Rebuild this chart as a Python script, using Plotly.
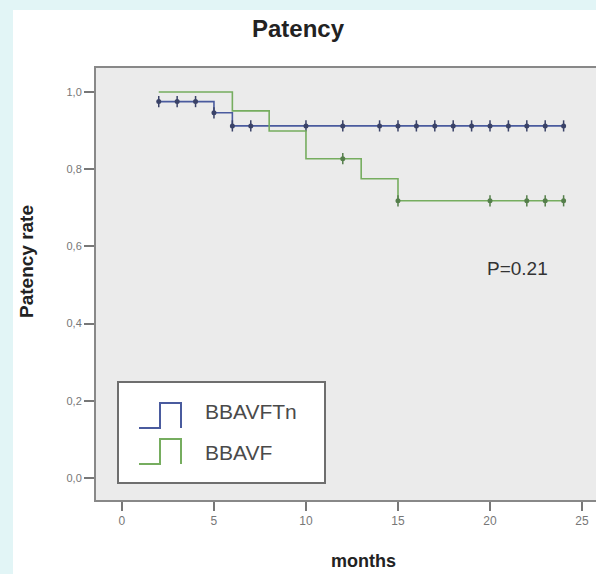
import numpy as np
import plotly.graph_objects as go

# ---- data ----
blue_name = "BBAVFTn"
blue_t = [2, 5, 6, 24]
blue_s = [0.975, 0.946, 0.912, 0.912]
blue_cens = [2, 3, 4, 5, 6, 7, 10, 12, 14, 15, 16, 17, 18, 19, 20, 21, 22, 23, 24]

green_name = "BBAVF"
green_t = [2, 6, 8, 10, 13, 15, 24]
green_s = [1.0, 0.951, 0.899, 0.827, 0.775, 0.718, 0.718]
green_cens = [12, 15, 20, 22, 23, 24]

x_ticks = [0, 5, 10, 15, 20, 25]
y_ticks = [0.0, 0.2, 0.4, 0.6, 0.8, 1.0]
y_ticktext = ["0,0", "0,2", "0,4", "0,6", "0,8", "1,0"]
p_text = "P=0.21"

BLUE = "#4a5b9e"
GREEN = "#76ad5f"
FONT = "Liberation Sans, Arial"

W, H = 596, 574
ML, MR, MT, MB = 96, 0, 68, 74
PW, PH = W - ML - MR, H - MT - MB


def px(x):
    return (x - ML) / PW


def py(y):
    return (H - MB - y) / PH


def step_val(t, s, x):
    idx = np.searchsorted(np.asarray(t), x, side="right") - 1
    return float(np.asarray(s)[max(idx, 0)])


fig = go.Figure()
for name, t, s, cens, col, mcol in [(blue_name, blue_t, blue_s, blue_cens, BLUE, "#3a4268"),
                                    (green_name, green_t, green_s, green_cens, GREEN, "#557f4b")]:
    fig.add_trace(go.Scatter(x=t, y=s, mode="lines", line=dict(color=col, width=1.6, shape="hv"),
                             name=name, showlegend=False, hoverinfo="skip"))
    cy = [step_val(t, s, c) for c in cens]
    fig.add_trace(go.Scatter(x=cens, y=cy, mode="markers",
                             marker=dict(symbol="circle", size=5, color=mcol, line=dict(width=0)),
                             showlegend=False, hoverinfo="skip"))
    fig.add_trace(go.Scatter(x=cens, y=cy, mode="markers",
                             marker=dict(symbol="line-ns", size=8, line=dict(color=mcol, width=1.5)),
                             showlegend=False, hoverinfo="skip"))

shapes = []
CYAN = "#e2f5f6"
shapes.append(dict(type="rect", xref="paper", yref="paper", x0=px(0), x1=px(13), y0=py(H), y1=py(0),
                   fillcolor=CYAN, line=dict(width=0), layer="below"))
shapes.append(dict(type="rect", xref="paper", yref="paper", x0=px(0), x1=px(W), y0=py(10), y1=py(0),
                   fillcolor=CYAN, line=dict(width=0), layer="below"))
shapes.append(dict(type="rect", xref="paper", yref="paper", x0=px(118), x1=px(325), y0=py(483), y1=py(382),
                   fillcolor="white", line=dict(color="#6e6e6e", width=2), layer="above"))


def icon(y_low, y_high, col):
    pts = [(139, y_low), (160, y_low), (160, y_high), (181, y_high), (181, y_low)]
    d = "M " + " L ".join(f"{px(a):.5f},{py(b):.5f}" for a, b in pts)
    return dict(type="path", xref="paper", yref="paper", path=d, line=dict(color=col, width=2), layer="above")


shapes.append(icon(428, 403, BLUE))
shapes.append(icon(464, 439, GREEN))

annotations = [
    dict(text="<b>Patency</b>", x=px(298), y=py(28), xref="paper", yref="paper", showarrow=False,
         font=dict(size=24, color="#222", family=FONT), xanchor="center", yanchor="middle"),
    dict(text="<b>Patency rate</b>", x=px(26), y=py(262), xref="paper", yref="paper", showarrow=False,
         textangle=-90, font=dict(size=19, color="#222", family=FONT), xanchor="center", yanchor="middle"),
    dict(text="<b>months</b>", x=px(363), y=py(573), xref="paper", yref="paper", showarrow=False,
         font=dict(size=18, color="#222", family=FONT), xanchor="center", yanchor="bottom"),
    dict(text=p_text, x=px(517), y=py(268), xref="paper", yref="paper", showarrow=False,
         font=dict(size=19, color="#333", family=FONT), xanchor="center", yanchor="middle"),
    dict(text=blue_name, x=px(203), y=py(411), xref="paper", yref="paper", showarrow=False,
         font=dict(size=21, color="#4a4a4a", family=FONT), xanchor="left", yanchor="middle"),
    dict(text=green_name, x=px(203), y=py(452), xref="paper", yref="paper", showarrow=False,
         font=dict(size=21, color="#4a4a4a", family=FONT), xanchor="left", yanchor="middle"),
]

fig.update_layout(
    width=W, height=H,
    margin=dict(l=ML, r=MR, t=MT, b=MB, pad=0),
    paper_bgcolor="white", plot_bgcolor="#ebebeb",
    shapes=shapes, annotations=annotations,
    showlegend=False,
    font=dict(family=FONT, color="#777"),
)
fig.update_xaxes(range=[-1.41, 25.76], tickvals=x_ticks, ticks="outside", ticklen=9, tickwidth=1.5,
                 tickcolor="#777", showline=True, linecolor="#888", linewidth=2, mirror=True,
                 showgrid=False, zeroline=False, tickfont=dict(size=12, color="#777"))
fig.update_yaxes(range=[-0.057, 1.062], tickvals=y_ticks, ticktext=y_ticktext, ticks="outside", ticklen=10,
                 tickwidth=1.5, tickcolor="#777", showline=True, linecolor="#888", linewidth=2,
                 showgrid=False, zeroline=False, tickfont=dict(size=11, color="#777"))

fig.write_html("out.html")
